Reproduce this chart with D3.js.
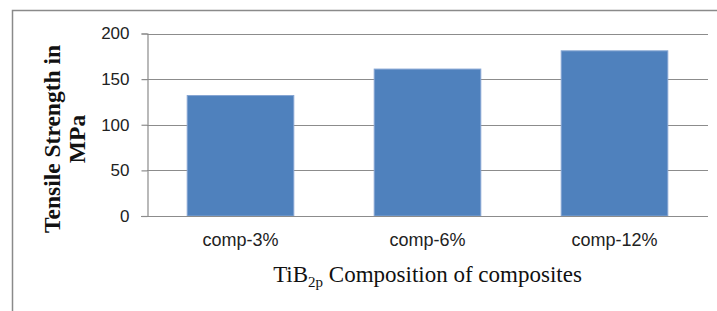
<!DOCTYPE html>
<html>
<head>
<meta charset="utf-8">
<script src="https://cdn.jsdelivr.net/npm/d3@7"></script>
<style>
  body { margin: 0; background: #fff; }
  svg { display: block; }
</style>
</head>
<body>
<svg id="chart"></svg>
<script>
var WIDTH = 717;
var HEIGHT = 311;

// data
var categories = ['comp-3%', 'comp-6%', 'comp-12%'];
var strength = [132, 161, 181];
var yTicks = [0, 50, 100, 150, 200];

var svg = d3.select('#chart')
  .attr('width', WIDTH)
  .attr('height', HEIGHT);

// outer frame (only top and left edges are visible)
svg.append('path')
  .attr('d', 'M12.5,' + HEIGHT + 'V10.5H' + WIDTH)
  .attr('fill', 'none')
  .attr('stroke', '#8a8a8a')
  .attr('stroke-width', 1.5);

var margin = {left: 147, right: 9, top: 33.5, bottom: 95};

var xScale = d3.scaleBand()
  .domain(categories)
  .range([margin.left, WIDTH - margin.right])
  .paddingInner(0.43)
  .paddingOuter(0.215);

var yScale = d3.scaleLinear()
  .domain([0, 200])
  .range([HEIGHT - margin.bottom, margin.top]);

// gridlines
svg.append('g')
  .selectAll('line')
  .data(yTicks.slice(1))
  .enter()
  .append('line')
  .attr('x1', margin.left)
  .attr('x2', WIDTH - margin.right)
  .attr('y1', function(d){ return Math.round(yScale(d)) + 0.5; })
  .attr('y2', function(d){ return Math.round(yScale(d)) + 0.5; })
  .attr('stroke', '#8c8c8c')
  .attr('stroke-width', 1.2);

// bars
svg.append('g')
  .selectAll('rect')
  .data(strength)
  .enter()
  .append('rect')
  .attr('x', function(d, i){ return xScale(categories[i]); })
  .attr('width', xScale.bandwidth())
  .attr('y', function(d){ return yScale(d); })
  .attr('height', function(d){ return yScale(0) - yScale(d); })
  .attr('fill', '#4f81bd')
  .attr('stroke', '#85a5d3')
  .attr('stroke-width', 1);

// y axis
var leftAxis = d3.axisLeft(yScale)
  .tickValues(yTicks)
  .tickSize(6)
  .tickPadding(12);
var yAxis = svg.append('g')
  .attr('transform', 'translate(' + (margin.left + 0.5) + ',0)')
  .call(leftAxis);
yAxis.select('.domain').attr('stroke', '#8c8c8c').attr('stroke-width', 1.2);
yAxis.selectAll('.tick line').attr('stroke', '#8c8c8c').attr('stroke-width', 1.2);
yAxis.selectAll('.tick text')
  .attr('font-family', 'Liberation Sans, Arial, sans-serif')
  .attr('font-size', 17)
  .attr('fill', '#222');

// x axis
var bottomAxis = d3.axisBottom(xScale).tickSize(0).tickPadding(17);
var xAxis = svg.append('g')
  .attr('transform', 'translate(0,' + (yScale(0) + 0.5) + ')')
  .call(bottomAxis);
xAxis.select('.domain')
  .attr('d', 'M' + (margin.left - 6) + ',0H' + (WIDTH - margin.right))
  .attr('stroke', '#8c8c8c').attr('stroke-width', 1.2);
xAxis.selectAll('.tick text')
  .attr('font-family', 'Liberation Sans, Arial, sans-serif')
  .attr('font-size', 18)
  .attr('fill', '#222');

// y axis title, two lines
var yTitle = svg.append('text')
  .attr('transform', 'translate(60,139) rotate(-90)')
  .attr('text-anchor', 'middle')
  .attr('font-family', 'Liberation Serif, Times New Roman, serif')
  .attr('font-weight', 'bold')
  .attr('font-size', 23.5)
  .attr('fill', '#111');
yTitle.append('tspan').attr('x', 0).attr('y', 0).text('Tensile Strength in');
yTitle.append('tspan').attr('x', 0).attr('y', 25).text('MPa');

// x axis title with subscript
var xTitle = svg.append('text')
  .attr('x', (margin.left + WIDTH - margin.right) / 2)
  .attr('y', 282)
  .attr('text-anchor', 'middle')
  .attr('font-family', 'Liberation Serif, Times New Roman, serif')
  .attr('font-size', 23)
  .attr('fill', '#111');
xTitle.append('tspan').text('TiB');
xTitle.append('tspan').attr('font-size', 15).attr('dy', 5).text('2p');
xTitle.append('tspan').attr('dy', -5).text(' Composition of composites');
</script>
</body>
</html>
